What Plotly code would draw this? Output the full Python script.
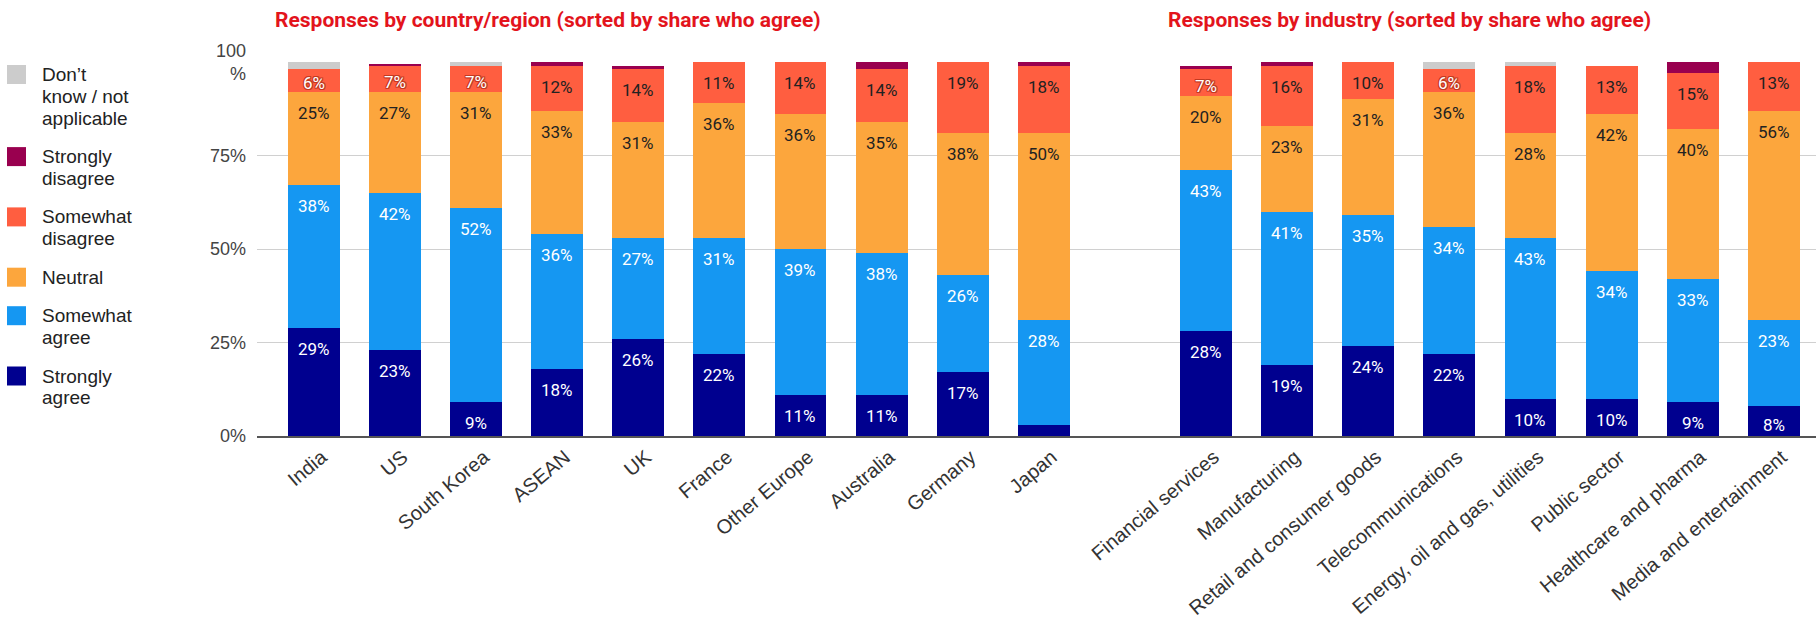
import plotly.graph_objects as go

# ---- data -------------------------------------------------------------
countries = ["India", "US", "South Korea", "ASEAN", "UK", "France",
             "Other Europe", "Australia", "Germany", "Japan"]
industries = ["Financial services", "Manufacturing", "Retail and consumer goods",
              "Telecommunications", "Energy, oil and gas, utilities", "Public sector",
              "Healthcare and pharma", "Media and entertainment"]

# shares in %, countries first, then industries
strongly_agree = [29, 23, 9, 18, 26, 22, 11, 11, 17, 3,
                  28, 19, 24, 22, 10, 10, 9, 8]
somewhat_agree = [38, 42, 52, 36, 27, 31, 39, 38, 26, 28,
                  43, 41, 35, 34, 43, 34, 33, 23]
neutral = [25, 27, 31, 33, 31, 36, 36, 35, 38, 50,
           20, 23, 31, 36, 28, 42, 40, 56]
somewhat_disagree = [6, 7, 7, 12, 14, 11, 14, 14, 19, 18,
                     7, 16, 10, 6, 18, 13, 15, 13]
strongly_disagree = [0, 0.5, 0, 1, 1, 0, 1, 2, 0, 1,
                     1, 1, 1, 0, 0, 0, 3, 0]
dont_know = [2, 0, 1, 0, 0, 0, 0, 0, 0, 0,
             0, 0, 0, 2, 1, 0, 0, 0]

series_names = ["Strongly\nagree", "Somewhat\nagree", "Neutral",
                "Somewhat\ndisagree", "Strongly\ndisagree", "Don’t\nknow / not\napplicable"]
series_values = [strongly_agree, somewhat_agree, neutral,
                 somewhat_disagree, strongly_disagree, dont_know]
series_colors = ["#00008f", "#1597f2", "#fca63d", "#ff5e40", "#99004f", "#cccccc"]
label_colors = ["#ffffff", "#ffffff", "#222222", "#222222", None, None]

y_ticks = [0, 25, 50, 75, 100]
y_ticktext = ["0%", "25%", "50%", "75%", "100<br>%"]

panel_titles = ["Responses by country/region (sorted by share who agree)",
                "Responses by industry (sorted by share who agree)"]

# ---- layout geometry ----------------------------------------------------
W, H = 1816, 624
ML, MR, MT, MB = 257, 0, 62, 188
PW, PH = W - ML - MR, H - MT - MB
Y_MAX = 100
PX_PER_UNIT = PH / Y_MAX


def paper_x(px):
    return (px - ML) / PW


def paper_y(py):
    return (H - MB - py) / PH


# category positions: one empty slot between the two groups
x_pos = list(range(len(countries))) + [len(countries) + 1 + i for i in range(len(industries))]
x_labels = countries + industries

fig = go.Figure()
for name, vals, col in zip(series_names, series_values, series_colors):
    fig.add_trace(go.Bar(
        x=x_pos, y=vals, name=name.replace("\n", " "), marker=dict(color=col, line=dict(width=0)),
        width=0.64, showlegend=False, hoverinfo="skip",
    ))

# ---- segment labels -------------------------------------------------------
annotations = []
base = [0.0] * len(x_pos)
for si, (vals, lcol) in enumerate(zip(series_values, label_colors)):
    for i, v in enumerate(vals):
        top = base[i] + v
        if lcol is not None and v >= 5:
            seg_px = v * PX_PER_UNIT
            offset = min(21.0, 0.62 * seg_px)
            font = dict(family="Roboto, Liberation Sans, sans-serif", size=17, color=lcol)
            if si == 3 and v < 8:
                font["color"] = "#ffffff"
                font["shadow"] = ("1px 0 0 #c23a22, -1px 0 0 #c23a22, 0 1px 0 #c23a22, "
                                  "0 -1px 0 #c23a22, 1px 1px 0 #c23a22, -1px -1px 0 #c23a22, "
                                  "1px -1px 0 #c23a22, -1px 1px 0 #c23a22")
            annotations.append(dict(
                x=x_pos[i], y=min(top, Y_MAX), xref="x", yref="y",
                text=f"{v:g}%", showarrow=False, yanchor="middle", xanchor="center",
                yshift=-offset, font=font,
            ))
        base[i] = top

# ---- panel titles -------------------------------------------------------------
for title, cx in zip(panel_titles, [548, 1409]):
    annotations.append(dict(
        x=paper_x(cx), y=paper_y(20), xref="paper", yref="paper",
        text=f"<b>{title}</b>", showarrow=False, xanchor="center", yanchor="middle",
        font=dict(family="Roboto, Liberation Sans, sans-serif", size=21, color="#e3141c"),
    ))

# ---- legend (top entry = last series) ----------------------------------------
shapes = []
LINE_H, ITEM_GAP, SQ = 21.8, 16.7, 19
y_cursor = 65
for name, col in zip(series_names[::-1], series_colors[::-1]):
    lines = name.split("\n")
    shapes.append(dict(
        type="rect", xref="paper", yref="paper",
        x0=paper_x(7), x1=paper_x(7 + SQ), y0=paper_y(y_cursor), y1=paper_y(y_cursor + SQ),
        fillcolor=col, line=dict(width=0),
    ))
    for k, ln in enumerate(lines):
        annotations.append(dict(
            x=paper_x(40), y=paper_y(y_cursor + SQ / 2 + k * LINE_H), xref="paper", yref="paper",
            text=ln, showarrow=False, xanchor="left", yanchor="middle",
            font=dict(family="Liberation Sans, Arial, sans-serif", size=19, color="#222222"),
        ))
    y_cursor += len(lines) * LINE_H + ITEM_GAP

fig.update_layout(
    width=W, height=H,
    margin=dict(l=ML, r=MR, t=MT, b=MB, autoexpand=False),
    paper_bgcolor="white", plot_bgcolor="white",
    barmode="stack", bargap=0,
    showlegend=False,
    annotations=annotations, shapes=shapes,
    xaxis=dict(
        range=[-0.70, x_pos[-1] + 0.52], tickmode="array", tickvals=x_pos, ticktext=x_labels,
        tickangle=-40, showgrid=False, zeroline=False, showline=True,
        linecolor="#555555", linewidth=1.5, ticks="", ticklabelshift=8,
        tickfont=dict(family="Liberation Sans, Arial, sans-serif", size=20, color="#333333"),
        automargin=False, fixedrange=True,
    ),
    yaxis=dict(
        range=[0, Y_MAX], tickmode="array", tickvals=y_ticks, ticktext=y_ticktext,
        showgrid=True, gridcolor="#d0d0d0", gridwidth=1, zeroline=False, showline=False,
        ticks="", ticklabelstandoff=10,
        tickfont=dict(family="Liberation Sans, Arial, sans-serif", size=18, color="#444444"),
        automargin=False, fixedrange=True,
    ),
)

fig.write_html("out.html", config={"displayModeBar": False})
